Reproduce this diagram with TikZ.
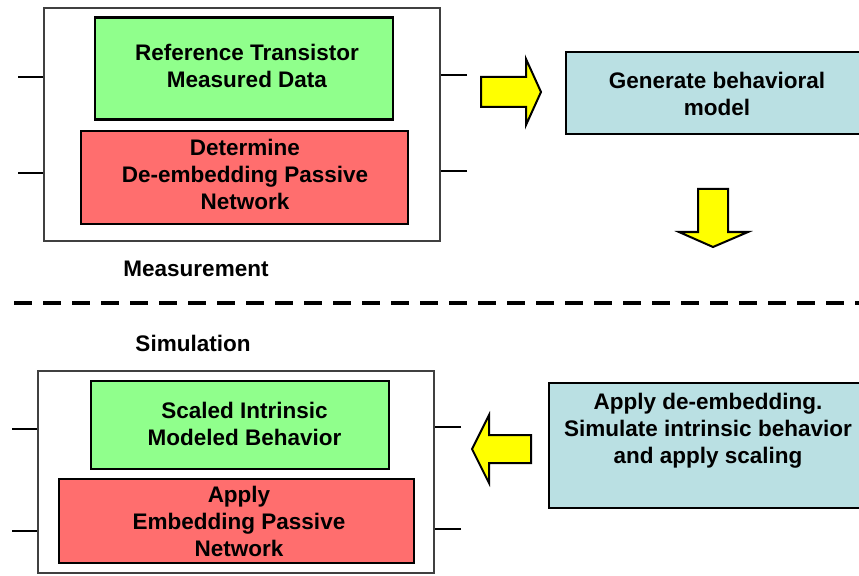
\documentclass[tikz,border=0pt]{standalone}
\usepackage{fontspec}
\setmainfont{Liberation Sans}
\definecolor{boxgreen}{HTML}{90FF8C}
\definecolor{boxred}{HTML}{FF6E6E}
\definecolor{boxcyan}{HTML}{BAE0E3}
\definecolor{arrowyellow}{HTML}{FFFF00}
\begin{document}
\begin{tikzpicture}[x=1bp,y=-1bp,
  txt/.style={font=\fontsize{22.5bp}{27bp}\selectfont\bfseries, align=center, inner sep=0pt},
  frame/.style={draw=black!75, line width=2bp, fill=white, inner sep=0pt},
  block/.style={draw=black, line width=2.2bp, inner sep=0pt},
  portline/.style={draw=black, line width=2.6bp},
  bigarrow/.style={draw=black, line width=2bp, fill=arrowyellow, line join=miter}]
\clip (0,0) rectangle (859,576);
\fill[white] (0,0) rectangle (859,576);

% ---------------- measurement side ----------------
\node[frame, minimum width=396bp, minimum height=233bp] (meas) at (242,124.5) {};
\node[block, fill=boxgreen, minimum width=298bp, minimum height=102bp] (refdata) at (244,68.5) {};
\node[block, fill=boxred, minimum width=327bp, minimum height=93bp] (deembed) at (244.5,177.5) {};
\node[txt] (refdatatxt) at (247,65.5) {Reference Transistor\\Measured Data};
\node[txt] (deembedtxt) at (245,174.5) {Determine\\De-embedding Passive\\Network};
\node[txt] (measlbl) at (196,269) {Measurement};

% ports of the measurement frame
\coordinate (mpl1) at (18,77);  \coordinate (mpl2) at (18,173);
\coordinate (mpr1) at (467,75); \coordinate (mpr2) at (467,171);
\draw[portline] (mpl1) -- (mpl1 -| meas.west);
\draw[portline] (mpl2) -- (mpl2 -| meas.west);
\draw[portline] (mpr1) -- (mpr1 -| meas.east);
\draw[portline] (mpr2) -- (mpr2 -| meas.east);

% model generation
\node[block, fill=boxcyan, minimum width=320bp, minimum height=82bp, anchor=west] (genmodel) at (565,93) {};
\node[txt] (genmodeltxt) at (717,93.5) {Generate behavioral\\model};

% yellow block arrows
\draw[bigarrow] (481,77) -- (526,77) -- (526,59) -- (541,92) -- (526,125) -- (526,107) -- (481,107) -- cycle;
\draw[bigarrow] (698,189) -- (728,189) -- (728,232) -- (748,232) -- (713,247) -- (679,232) -- (698,232) -- cycle;

% divider between measurement and simulation
\coordinate (divl) at (14,303);
\coordinate (divr) at (870,303);
\draw[line width=4bp, dash pattern=on 18bp off 11bp] (divl) -- (divr);

% ---------------- simulation side ----------------
\node[txt] (simlbl) at (193,343) {Simulation};
\node[frame, minimum width=396bp, minimum height=202bp] (sim) at (236,472) {};
\node[block, fill=boxgreen, minimum width=298bp, minimum height=88bp] (scaled) at (240,425) {};
\node[block, fill=boxred, minimum width=355bp, minimum height=84bp] (embed) at (236.5,521) {};
\node[txt] (scaledtxt) at (244.5,423.5) {Scaled Intrinsic\\Modeled Behavior};
\node[txt] (embedtxt) at (239,521) {Apply\\Embedding Passive\\Network};

% ports of the simulation frame
\coordinate (spl1) at (12,429);  \coordinate (spl2) at (12,531);
\coordinate (spr1) at (461,427); \coordinate (spr2) at (461,529);
\draw[portline] (spl1) -- (spl1 -| sim.west);
\draw[portline] (spl2) -- (spl2 -| sim.west);
\draw[portline] (spr1) -- (spr1 -| sim.east);
\draw[portline] (spr2) -- (spr2 -| sim.east);

% de-embedding and scaling step
\node[block, fill=boxcyan, minimum width=330bp, minimum height=125bp, anchor=west] (applyde) at (548,445.5) {};
\node[txt] (applydetxt) at (708,431) {Apply de-embedding.\\Simulate intrinsic behavior\\and apply scaling};

\draw[bigarrow] (531,435) -- (489,435) -- (489,415) -- (472,449) -- (489,483) -- (489,463) -- (531,463) -- cycle;
\end{tikzpicture}
\end{document}
